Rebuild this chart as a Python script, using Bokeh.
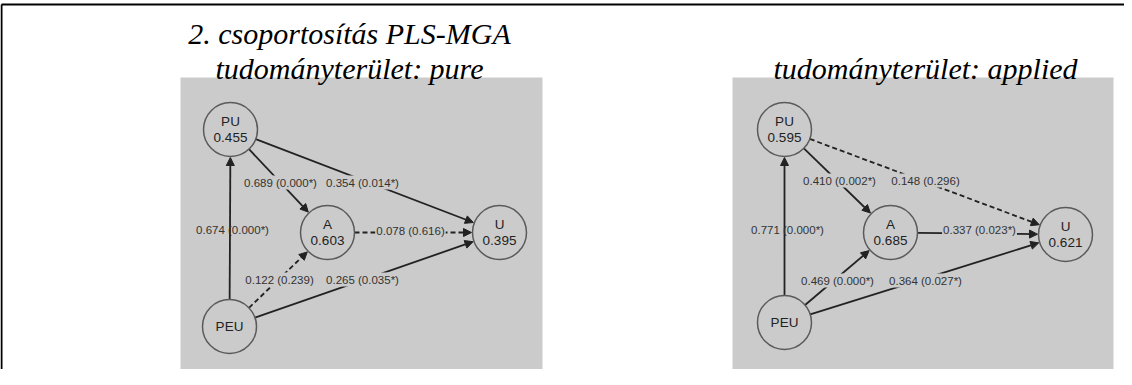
import math
from bokeh.plotting import figure
from bokeh.models import Range1d, Arrow, NormalHead, ColumnDataSource
from bokeh.core.properties import value
from bokeh.embed import file_html
from bokeh.resources import INLINE

# ---------------- data ----------------
title_lines_left = ["2. csoportosítás PLS-MGA", "tudományterület: pure"]
title_right = "tudományterület: applied"

node_names = ["PU", "A", "U", "PEU"]
r2_pure = ["0.455", "0.603", "0.395", ""]
r2_applied = ["0.595", "0.685", "0.621", ""]

path_from = ["PU", "PU", "PEU", "A", "PEU", "PEU"]
path_to = ["A", "U", "PU", "U", "A", "U"]
coef_pure = ["0.689", "0.354", "0.674", "0.078", "0.122", "0.265"]
pval_pure = ["0.000", "0.014", "0.000", "0.616", "0.239", "0.035"]
coef_applied = ["0.410", "0.148", "0.771", "0.337", "0.469", "0.364"]
pval_applied = ["0.002", "0.296", "0.000", "0.023", "0.000", "0.027"]

# ---------------- layout (page pixel coordinates) ----------------
W, H = 1124, 369
panels = [
    dict(origin=(188, 85), size=(362, 298), r2=r2_pure, coef=coef_pure, pval=pval_pure,
         nodes={"PU": (50, 52), "A": (147, 155), "U": (319, 155), "PEU": (49, 249)},
         labels=[(100, 105), (182, 105), (52, 152), (230, 153), (99, 202), (182, 202)]),
    dict(origin=(740, 85), size=(381, 298), r2=r2_applied, coef=coef_applied, pval=pval_applied,
         nodes={"PU": (52, 52), "A": (158, 155), "U": (333, 157), "PEU": (52, 245)},
         labels=[(107, 103), (193, 103), (55, 152), (247, 152), (105, 203), (193, 203)]),
]
R = 27
BG = "#cbcbcb"
INK = "#222222"
SANS = value("Liberation Sans")

p = figure(width=W, height=H, output_backend="svg", toolbar_location=None,
           x_range=Range1d(8, 8 + W), y_range=Range1d(8 + H, 8),
           min_border=0, background_fill_color="white", border_fill_color="white")
p.axis.visible = False
p.grid.visible = False
p.outline_line_color = None

# table borders (top and left only)
p.segment(x0=[9], y0=[12], x1=[8 + W + 10], y1=[12], line_color="black", line_width=2)
p.segment(x0=[9], y0=[12], x1=[9], y1=[8 + H + 10], line_color="black", line_width=2)

# titles
serif = value("Liberation Serif")
p.text(x=[357, 357], y=[41, 76], text=title_lines_left, text_font=serif, text_font_style="italic",
       text_font_size="30px", text_align="center", text_baseline="alphabetic", text_color="black")
p.text(x=[933], y=[76], text=[title_right], text_font=serif, text_font_style="italic",
       text_font_size="30px", text_align="center", text_baseline="alphabetic", text_color="black")

for pan in panels:
    ox, oy = pan["origin"]
    pw, ph = pan["size"]
    p.quad(left=[ox], right=[ox + pw], top=[oy], bottom=[oy + ph], fill_color=BG, line_color=None,
           level="image")
    pos = {k: (ox + v[0], oy + v[1]) for k, v in pan["nodes"].items()}

    # paths
    for i, (a, b) in enumerate(zip(path_from, path_to)):
        (x0, y0), (x1, y1) = pos[a], pos[b]
        d = math.hypot(x1 - x0, y1 - y0)
        ux, uy = (x1 - x0) / d, (y1 - y0) / d
        sig = float(pan["pval"][i]) < 0.05
        arr = Arrow(x_start=x0 + ux * R, y_start=y0 + uy * R,
                    x_end=x1 - ux * (R + 1), y_end=y1 - uy * (R + 1),
                    line_color=INK, line_width=1.8,
                    line_dash="solid" if sig else "5 3",
                    end=NormalHead(size=8, fill_color=INK, line_color=INK, line_width=1),
                    level="underlay")
        p.add_layout(arr)

    # path labels
    lx = [ox + l[0] for l in pan["labels"]]
    ly = [oy + l[1] for l in pan["labels"]]
    txt = [f"{c} ({pv}{'*' if float(pv) < 0.05 else ''})" for c, pv in zip(pan["coef"], pan["pval"])]
    vertical = [path_from[i] == "PEU" and path_to[i] == "PU" for i in range(len(txt))]
    src_bg = ColumnDataSource(dict(x=[x for x, v in zip(lx, vertical) if not v],
                                   y=[y for y, v in zip(ly, vertical) if not v],
                                   t=[t for t, v in zip(txt, vertical) if not v]))
    src_nobg = ColumnDataSource(dict(x=[x for x, v in zip(lx, vertical) if v],
                                     y=[y for y, v in zip(ly, vertical) if v],
                                     t=[t for t, v in zip(txt, vertical) if v]))
    p.text(x="x", y="y", text="t", source=src_bg, text_font=SANS, text_font_size="11.5px",
           text_align="center", text_baseline="middle", text_color="#333333",
           background_fill_color=BG, padding=1)
    p.text(x="x", y="y", text="t", source=src_nobg, text_font=SANS, text_font_size="11.5px",
           text_align="center", text_baseline="middle", text_color="#333333")

    # nodes
    nx = [pos[n][0] for n in node_names]
    ny = [pos[n][1] for n in node_names]
    p.circle(x=nx, y=ny, radius=R, fill_color=BG, line_color="#5a5a5a", line_width=1.5)
    has_val = [v != "" for v in pan["r2"]]
    p.text(x=nx, y=[y - 8 if h else y for y, h in zip(ny, has_val)], text=node_names,
           text_font=SANS, text_font_size="13.5px", text_align="center",
           text_baseline="middle", text_color="#222222")
    vx = [x for x, h in zip(nx, has_val) if h]
    vy = [y + 8 for y, h in zip(ny, has_val) if h]
    vt = [v for v in pan["r2"] if v]
    p.text(x=vx, y=vy, text=vt, text_font=SANS, text_font_size="13.5px", text_align="center",
           text_baseline="middle", text_color="#222222")

open("out.html", "w").write(file_html(p, INLINE))
